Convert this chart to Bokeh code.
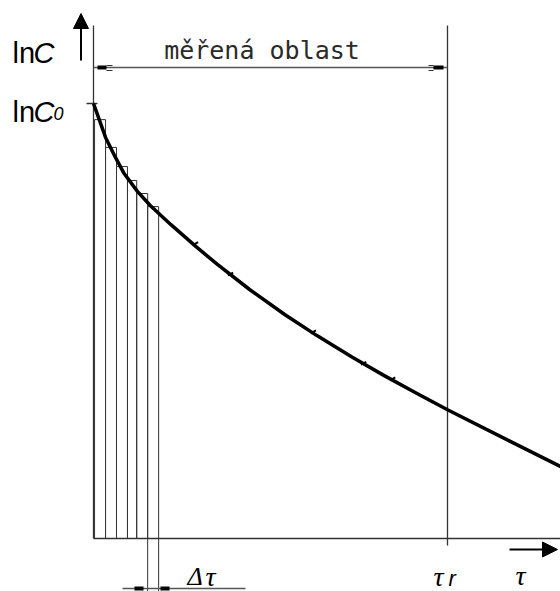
from bokeh.plotting import figure
from bokeh.models import Range1d, Arrow, NormalHead
from bokeh.core.properties import value
from bokeh.embed import file_html
from bokeh.resources import INLINE

# ---- data (schematic values, tau in units where tau_r = 10, lnC0 = 10) ----
tau = [0.0, 0.14, 0.34, 0.62, 0.85, 1.24, 1.61, 2.18, 2.88, 3.50, 4.40, 5.40,
       6.30, 7.30, 8.20, 9.10, 10.0, 13.2]
lnC = [10.0, 9.68, 9.22, 8.76, 8.41, 7.98, 7.65, 7.22, 6.72, 6.30, 5.73, 5.15,
       4.67, 4.17, 3.75, 3.35, 2.96, 1.65]

meas_tau = [2.88, 3.87, 6.21, 7.63, 8.45]
meas_lnC = [6.78, 6.08, 4.75, 4.03, 3.67]

strip_left = [0.03, 0.34, 0.65, 0.96, 1.22, 1.53]
strip_right = [0.34, 0.65, 0.96, 1.22, 1.53, 1.84]
strip_top = [9.63, 8.99, 8.55, 8.23, 7.93, 7.63]

tau_r = 10.0
lnC0 = 10.0

# ---- view (35.4 px per tau unit, 43.5 px per lnC unit) ----
W, H = 560, 591
SX, SY = 35.4, 43.5
X0, X1 = (0 - 93) / SX, (W - 93) / SX
Y0, Y1 = (538 - H) / SY, (538 - 0) / SY

def px(x):
    return (x - 93) / SX

def py(y):
    return (538 - y) / SY

p = figure(width=W, height=H, x_range=Range1d(X0, X1), y_range=Range1d(Y0, Y1),
           output_backend="svg", toolbar_location=None, min_border=0)
p.axis.visible = False
p.grid.visible = False
p.outline_line_color = None
p.background_fill_color = "white"

LC = "#333333"

# axes
p.segment(x0=[0], y0=[py(25)], x1=[0], y1=[0], line_color=LC, line_width=1.3)
p.segment(x0=[0], y0=[0], x1=[X1], y1=[0], line_color=LC, line_width=1.3)
# tau_r line
p.segment(x0=[tau_r], y0=[py(25)], x1=[tau_r], y1=[py(545)], line_color=LC, line_width=1.3)
# lnC0 tick
p.segment(x0=[px(86)], y0=[lnC0], x1=[px(97)], y1=[lnC0], line_color=LC, line_width=1.3)

# strips
p.quad(left=strip_left, right=strip_right, bottom=0, top=strip_top,
       fill_color=None, line_color=LC, line_width=1)
p.segment(x0=[strip_left[-1], strip_right[-1]], y0=[0, 0],
          x1=[strip_left[-1], strip_right[-1]], y1=[Y0, Y0], line_color=LC, line_width=1)

# curve
p.line(tau, lnC, line_color="black", line_width=3.5, line_join="round")
p.scatter(meas_tau, meas_lnC, marker="dash", size=6, angle=0.5, line_color="black", line_width=2)

# dimension line "měřená oblast"
yd = py(67)
p.segment(x0=[0], y0=[yd], x1=[tau_r], y1=[yd], line_color="#555555", line_width=1.3)
p.segment(x0=[px(97), px(433)], y0=[yd, yd], x1=[px(106), px(443)], y1=[yd, yd],
          line_color="black", line_width=4)
for xa, xb in [(px(106), px(112)), (px(428), px(433))]:
    p.segment(x0=[xa, xa], y0=[py(65), py(70)], x1=[xb, xb], y1=[py(65), py(70)],
              line_color=LC, line_width=1)

# dimension line delta tau
yb = py(588)
p.segment(x0=[px(122)], y0=[yb], x1=[px(245)], y1=[yb], line_color="#555555", line_width=1.3)
p.segment(x0=[px(134), px(160)], y0=[yb, yb], x1=[px(143), px(169)], y1=[yb, yb],
          line_color="black", line_width=4)

# arrows
p.add_layout(Arrow(end=NormalHead(size=15, fill_color="black", line_color="black"),
                   x_start=px(80.5), y_start=py(60), x_end=px(80.5), y_end=py(13),
                   line_width=2, line_color="black"))
p.add_layout(Arrow(end=NormalHead(size=15, fill_color="black", line_color="black"),
                   x_start=px(509), y_start=py(549), x_end=px(557), y_end=py(549),
                   line_width=2, line_color="black"))

SANS = value("Liberation Sans")
SERIF = value("Liberation Serif")

# lnC labels
p.text(x=[px(12), px(12)], y=[py(52), py(111)], text=["ln", "ln"], text_font=SANS,
       text_font_size="29px", text_align="left", text_baseline="alphabetic", text_color="black")
p.text(x=[px(12), px(12)], y=[py(52), py(111)], text=["C", "C"], x_offset=21, text_font=SANS,
       text_font_size="29px", text_font_style="italic", text_align="left",
       text_baseline="alphabetic", text_color="black")
p.text(x=[px(12)], y=[py(111)], text=["0"], x_offset=41, y_offset=2, text_font=SANS,
       text_font_size="18px", text_font_style="italic", text_align="left",
       text_baseline="alphabetic", text_color="black")

p.text(x=[(px(163) + px(360)) / 2], y=[py(50)], text=["měřená oblast"],
       text_font=value("DejaVu Sans Mono"), text_font_size="25px", text_align="center",
       text_baseline="alphabetic", text_color="#2a2a2a")

# delta tau label
p.text(x=[px(187)], y=[py(576)], text=["Δ"], text_font=SERIF, text_font_size="26px",
       text_font_style="italic", text_align="left", text_baseline="alphabetic", text_color="black")
p.text(x=[px(205)], y=[py(575.5)], text=["τ"], text_font=SERIF, text_font_size="28px",
       text_font_style="italic", text_align="left", text_baseline="alphabetic", text_color="black")

p.text(x=[px(433), px(515)], y=[py(576), py(575)], text=["τ", "τ"], text_font=SERIF,
       text_font_size="28px", text_font_style="italic", text_align="left",
       text_baseline="alphabetic", text_color="black")
p.text(x=[px(433)], y=[py(576)], text=["r"], x_offset=15, y_offset=2, text_font=SANS,
       text_font_size="22px", text_font_style="italic", text_align="left",
       text_baseline="alphabetic", text_color="black")

open("out.html", "w").write(file_html(p, INLINE))
